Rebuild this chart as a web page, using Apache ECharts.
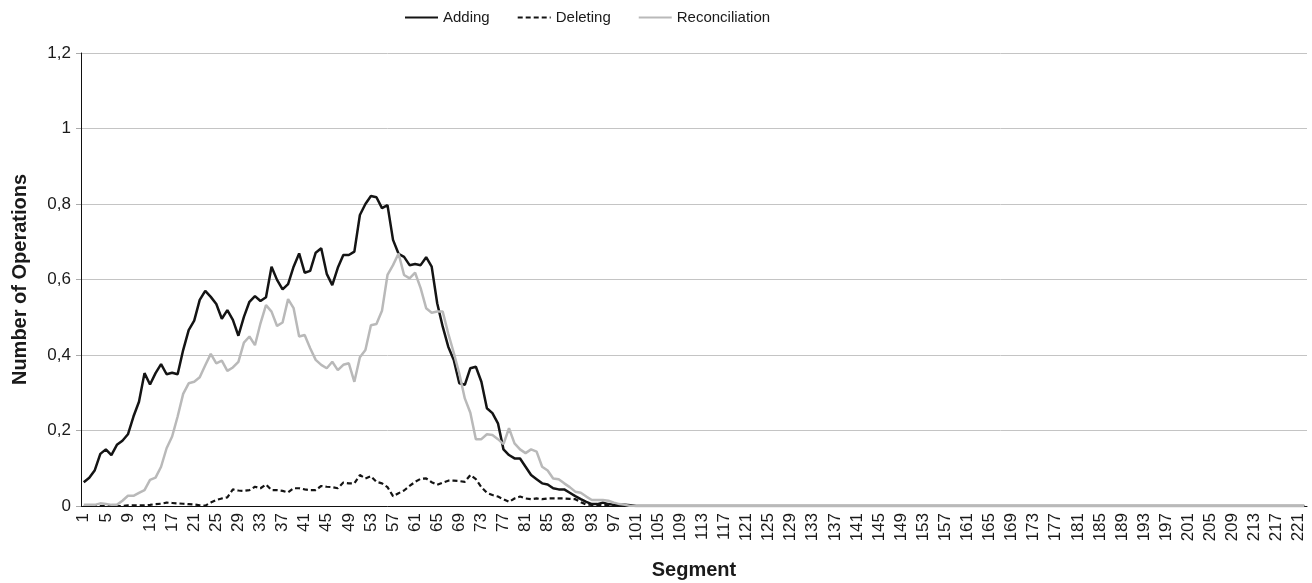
<!DOCTYPE html>
<html>
<head>
<meta charset="utf-8">
<script src="https://cdn.jsdelivr.net/npm/echarts@6/dist/echarts.min.js"></script>
<style>
  html, body { margin: 0; padding: 0; background: #fff; }
  #chart { width: 1312px; height: 583px; }
</style>
</head>
<body>
<div id="chart"></div>
<script>
// Operations per segment - Adding / Deleting / Reconciliation

// segments 1..100, everything after is flat zero
const adding = [
  0.063, 0.075, 0.095, 0.138, 0.150, 0.135, 0.162, 0.173, 0.190, 0.237,
  0.276, 0.352, 0.322, 0.352, 0.376, 0.349, 0.353, 0.349, 0.413, 0.466,
  0.491, 0.546, 0.570, 0.554, 0.535, 0.496, 0.519, 0.493, 0.451, 0.501,
  0.541, 0.556, 0.543, 0.553, 0.634, 0.599, 0.574, 0.588, 0.634, 0.669,
  0.618, 0.623, 0.671, 0.683, 0.615, 0.585, 0.631, 0.665, 0.665, 0.674,
  0.771, 0.800, 0.821, 0.818, 0.789, 0.797, 0.705, 0.668, 0.660, 0.638,
  0.641, 0.638, 0.659, 0.634, 0.537, 0.475, 0.422, 0.387, 0.325, 0.321,
  0.365, 0.369, 0.329, 0.259, 0.246, 0.219, 0.150, 0.135, 0.126, 0.126,
  0.104, 0.082, 0.071, 0.060, 0.057, 0.047, 0.044, 0.044, 0.035, 0.026,
  0.018, 0.011, 0.005, 0.005, 0.009, 0.005, 0.003, 0.003, 0.003, 0.002
];

const deleting = [
  0, 0, 0, 0, 0, 0, 0, 0, 0.002, 0.002,
  0.002, 0.002, 0.003, 0.005, 0.006, 0.009, 0.008, 0.007, 0.006, 0.005,
  0.004, 0.002, 0.001, 0.009, 0.016, 0.020, 0.023, 0.044, 0.041, 0.040,
  0.042, 0.051, 0.047, 0.057, 0.042, 0.042, 0.040, 0.036, 0.047, 0.047,
  0.044, 0.042, 0.042, 0.053, 0.051, 0.050, 0.047, 0.062, 0.060, 0.060,
  0.082, 0.073, 0.079, 0.064, 0.060, 0.050, 0.026, 0.034, 0.041, 0.053,
  0.064, 0.072, 0.073, 0.063, 0.056, 0.062, 0.067, 0.067, 0.066, 0.064,
  0.082, 0.071, 0.050, 0.035, 0.029, 0.025, 0.018, 0.011, 0.020, 0.025,
  0.020, 0.018, 0.020, 0.018, 0.020, 0.020, 0.020, 0.020, 0.019, 0.018,
  0.010, 0.004, 0.003, 0.003, 0.003, 0.003, 0.002, 0, 0, 0
];

const reconciliation = [
  0.003, 0.003, 0.003, 0.007, 0.005, 0.003, 0.003, 0.014, 0.027, 0.027,
  0.035, 0.042, 0.069, 0.075, 0.104, 0.153, 0.184, 0.237, 0.297, 0.325,
  0.329, 0.341, 0.373, 0.403, 0.378, 0.385, 0.358, 0.367, 0.382, 0.433,
  0.449, 0.426, 0.484, 0.532, 0.515, 0.477, 0.486, 0.548, 0.524, 0.449,
  0.453, 0.418, 0.387, 0.374, 0.365, 0.382, 0.360, 0.374, 0.378, 0.329,
  0.394, 0.413, 0.479, 0.482, 0.517, 0.612, 0.638, 0.669, 0.612, 0.603,
  0.618, 0.577, 0.524, 0.512, 0.515, 0.515, 0.457, 0.406, 0.351, 0.285,
  0.247, 0.177, 0.177, 0.190, 0.188, 0.177, 0.164, 0.206, 0.166, 0.150,
  0.140, 0.150, 0.144, 0.104, 0.094, 0.073, 0.071, 0.060, 0.050, 0.038,
  0.035, 0.025, 0.016, 0.016, 0.016, 0.014, 0.009, 0.005, 0.003, 0
];

// segments 101..222
const zeroTail = [
  0, 0, 0, 0, 0, 0, 0, 0, 0, 0, 0, 0, 0, 0, 0, 0, 0, 0, 0, 0,
  0, 0, 0, 0, 0, 0, 0, 0, 0, 0, 0, 0, 0, 0, 0, 0, 0, 0, 0, 0,
  0, 0, 0, 0, 0, 0, 0, 0, 0, 0, 0, 0, 0, 0, 0, 0, 0, 0, 0, 0,
  0, 0, 0, 0, 0, 0, 0, 0, 0, 0, 0, 0, 0, 0, 0, 0, 0, 0, 0, 0,
  0, 0, 0, 0, 0, 0, 0, 0, 0, 0, 0, 0, 0, 0, 0, 0, 0, 0, 0, 0,
  0, 0, 0, 0, 0, 0, 0, 0, 0, 0, 0, 0, 0, 0, 0, 0, 0, 0, 0, 0,
  0, 0
];

const segmentCount = 222;
const segments = [];
for (let i = 1; i <= segmentCount; i++) segments.push(String(i));

const yTicks = [0, 0.2, 0.4, 0.6, 0.8, 1, 1.2];

const chart = echarts.init(document.getElementById('chart'));

const font = 'Liberation Sans, Arial, Helvetica, sans-serif';

const option = {
  animation: false,
  backgroundColor: '#ffffff',
  textStyle: { fontFamily: font },
  legend: {
    top: 5,
    left: 399,
    itemWidth: 33,
    itemHeight: 14,
    itemGap: 27,
    itemStyle: { opacity: 0 },
    textStyle: { fontSize: 15, color: '#1a1a1a', fontFamily: font },
    data: ['Adding', 'Deleting', 'Reconciliation']
  },
  grid: {
    left: 81,
    right: 5,
    top: 53,
    bottom: 77,
    containLabel: false,
    outerBoundsMode: 'none'
  },
  xAxis: {
    type: 'category',
    data: segments,
    boundaryGap: true,
    name: 'Segment',
    nameLocation: 'middle',
    nameGap: 54,
    nameTextStyle: { fontSize: 20, fontWeight: 'bold', color: '#1a1a1a' },
    axisLine: { lineStyle: { color: '#111', width: 1 } },
    axisTick: {
      interval: 0,
      length: 4,
      lineStyle: { color: '#333' }
    },
    axisLabel: {
      interval: 3,
      rotate: 90,
      margin: 7,
      fontSize: 17,
      color: '#1a1a1a'
    },
    splitLine: { show: false }
  },
  yAxis: {
    type: 'value',
    min: 0,
    max: yTicks[yTicks.length - 1],
    interval: 0.2,
    name: 'Number of Operations',
    nameLocation: 'middle',
    nameGap: 51,
    nameTextStyle: { fontSize: 20, fontWeight: 'bold', color: '#1a1a1a' },
    axisLine: { show: true, lineStyle: { color: '#111', width: 1 } },
    axisTick: { show: true, length: 5, lineStyle: { color: '#aaa' } },
    axisLabel: {
      margin: 10,
      fontSize: 17,
      color: '#1a1a1a',
      formatter: (v) => String(+v.toFixed(1)).replace('.', ',')
    },
    splitLine: { lineStyle: { color: '#c4c4c4', width: 1 } }
  },
  series: [
    {
      name: 'Adding',
      type: 'line',
      data: adding.concat(zeroTail),
      symbol: 'none',
      lineStyle: { color: '#141414', width: 2.5 },
      itemStyle: { color: '#141414' }
    },
    {
      name: 'Deleting',
      type: 'line',
      data: deleting.concat(zeroTail),
      symbol: 'none',
      lineStyle: { color: '#141414', width: 2.2, type: [5, 3] },
      itemStyle: { color: '#141414' }
    },
    {
      name: 'Reconciliation',
      type: 'line',
      data: reconciliation.concat(zeroTail),
      symbol: 'none',
      lineStyle: { color: '#b9b9b9', width: 2.5 },
      itemStyle: { color: '#b9b9b9' }
    }
  ]
};

chart.setOption(option);
</script>
</body>
</html>
